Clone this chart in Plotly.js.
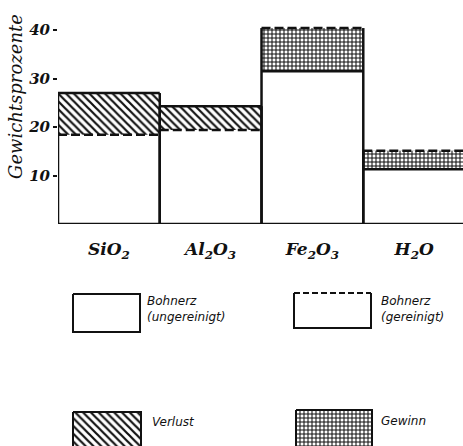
<!DOCTYPE html>
<html><head><meta charset="utf-8">
<script src="https://cdn.plot.ly/plotly-3.0.1.min.js"></script>
<style>html,body{margin:0;padding:0;background:#fff}</style>
</head><body><div id="chart" style="width:463px;height:446px"></div>
<script>
// ---- data ----
const categories = ['SiO2', 'Al2O3', 'Fe2O3', 'H2O'];
const tickLabels = ['SiO<sub>2</sub>', 'Al<sub>2</sub>O<sub>3</sub>', 'Fe<sub>2</sub>O<sub>3</sub>', 'H<sub>2</sub>O'];
const ungereinigt = [27.0, 24.3, 31.5, 11.3];   // Bohnerz (ungereinigt) – solid edge
const gereinigt   = [18.4, 19.4, 40.4, 15.1];   // Bohnerz (gereinigt) – dashed edge
const yTickVals = [10, 20, 30, 40];
const yTickText = ['10', '20', '30', '40'];

// ---- derived ----
const pos = categories.map((c, i) => i);
const lower = pos.map(i => Math.min(ungereinigt[i], gereinigt[i]));
const upper = pos.map(i => Math.max(ungereinigt[i], gereinigt[i]));
const lossBase = [], lossH = [], gainBase = [], gainH = [];
pos.forEach(i => {
  const u = ungereinigt[i], g = gereinigt[i];
  if (u > g) { lossBase.push(g); lossH.push(u - g); gainBase.push(0); gainH.push(0); }
  else { gainBase.push(u); gainH.push(g - u); lossBase.push(0); lossH.push(0); }
});
// outline paths
const solidX = [], solidY = [], dashX = [], dashY = [];
pos.forEach(i => {
  solidX.push(i - 0.5, i - 0.5, null, i + 0.5, i + 0.5, null, i - 0.5, i + 0.5, null);
  solidY.push(0, upper[i], null, 0, upper[i], null, ungereinigt[i], ungereinigt[i], null);
  dashX.push(i - 0.5, i + 0.5, null);
  dashY.push(gereinigt[i], gereinigt[i], null);
});

const INK = '#111';
const serifBI = {family: 'DejaVu Serif', size: 17, color: INK, weight: 'bold', style: 'italic'};
const hatchLoss = {shape: '\\', fgcolor: INK, bgcolor: '#fff', size: 5.5, solidity: 0.4};
const hatchGain = {shape: '+', fgcolor: INK, bgcolor: '#fff', size: 4, solidity: 0.45};

const traces = [
  {type: 'bar', x: pos, y: lower, width: 1, marker: {color: '#fff', line: {width: 0}}, hoverinfo: 'skip'},
  {type: 'bar', x: pos, y: lossH, base: lossBase, width: 1,
   marker: {color: '#fff', pattern: hatchLoss, line: {width: 0}}, hoverinfo: 'skip'},
  {type: 'bar', x: pos, y: gainH, base: gainBase, width: 1,
   marker: {color: '#fff', pattern: hatchGain, line: {width: 0}}, hoverinfo: 'skip'},
  {type: 'scatter', mode: 'lines', x: solidX, y: solidY, cliponaxis: false,
   line: {color: INK, width: 2.5}, hoverinfo: 'skip'},
  {type: 'scatter', mode: 'lines', x: dashX, y: dashY, cliponaxis: false,
   line: {color: INK, width: 2.5, dash: '9px,4px'}, hoverinfo: 'skip'},
  // legend boxes (decoration, in a pixel-like auxiliary axis)
  {type: 'scatter', mode: 'lines', xaxis: 'x2', yaxis: 'y2', fill: 'toself', fillcolor: '#fff',
   x: [73, 140, 140, 73, 73], y: [294, 294, 332, 332, 294], line: {color: INK, width: 2}, hoverinfo: 'skip'},
  {type: 'scatter', mode: 'lines', xaxis: 'x2', yaxis: 'y2', fill: 'toself', fillcolor: '#fff',
   x: [371, 371, 294, 294], y: [293, 328, 328, 293], line: {color: INK, width: 2}, hoverinfo: 'skip'},
  {type: 'scatter', mode: 'lines', xaxis: 'x2', yaxis: 'y2',
   x: [294, 371], y: [293, 293], line: {color: INK, width: 2, dash: '6px,3px'}, hoverinfo: 'skip'},
  {type: 'scatter', mode: 'lines', xaxis: 'x2', yaxis: 'y2', fill: 'toself', fillcolor: '#fff',
   fillpattern: hatchLoss, x: [73, 141, 141, 73, 73], y: [412, 412, 452, 452, 412],
   line: {color: INK, width: 2}, hoverinfo: 'skip'},
  {type: 'scatter', mode: 'lines', xaxis: 'x2', yaxis: 'y2', fill: 'toself', fillcolor: '#fff',
   fillpattern: hatchGain, x: [296, 372, 372, 296, 296], y: [410, 410, 452, 452, 410],
   line: {color: INK, width: 2}, hoverinfo: 'skip'}
];

const sansI = {family: 'DejaVu Sans', size: 12, color: INK, style: 'italic'};
const layout = {
  width: 463, height: 446,
  margin: {l: 58, r: 0, t: 0, b: 0},
  paper_bgcolor: '#fff', plot_bgcolor: 'rgba(0,0,0,0)',
  showlegend: false, hovermode: false, barmode: 'overlay',
  xaxis: {domain: [0, 1], range: [-0.5, 3.48], tickvals: pos, ticktext: tickLabels,
          showgrid: false, zeroline: false, showline: false,
          ticks: 'outside', ticklen: 10, tickcolor: 'rgba(0,0,0,0)', tickfont: serifBI, anchor: 'y'},
  yaxis: {domain: [1 - 224 / 446, 1], range: [0, 224 / 4.85], tickvals: yTickVals, ticktext: yTickText,
          showgrid: false, zeroline: false, showline: false,
          ticks: 'outside', ticklen: 4, tickwidth: 2, tickcolor: INK,
          tickfont: {family: 'DejaVu Serif', size: 15, color: INK, weight: 'bold', style: 'italic'}, anchor: 'x'},
  xaxis2: {domain: [0, 1], range: [58, 463], visible: false, anchor: 'y2'},
  yaxis2: {domain: [0, 1 - 224 / 446], range: [446, 224], visible: false, anchor: 'x2'},
  shapes: [
    {type: 'line', xref: 'paper', yref: 'y', x0: 0, x1: 1, y0: 0, y1: 0, line: {color: INK, width: 2.5}}
  ],
  annotations: [
    {text: 'Gewichtsprozente', textangle: -90, xref: 'paper', yref: 'paper',
     x: (16 - 58) / 405, y: 1 - 97 / 446, xanchor: 'center', yanchor: 'middle', showarrow: false,
     font: {family: 'DejaVu Serif', size: 18, color: INK, style: 'italic'}},
    {text: 'Bohnerz<br>(ungereinigt)', xref: 'x2', yref: 'y2', x: 145, y: 309, xanchor: 'left', yanchor: 'middle',
     align: 'left', showarrow: false, font: sansI},
    {text: 'Bohnerz<br>(gereinigt)', xref: 'x2', yref: 'y2', x: 379, y: 309, xanchor: 'left', yanchor: 'middle',
     align: 'left', showarrow: false, font: sansI},
    {text: 'Verlust', xref: 'x2', yref: 'y2', x: 150, y: 422, xanchor: 'left', yanchor: 'middle',
     showarrow: false, font: sansI},
    {text: 'Gewinn', xref: 'x2', yref: 'y2', x: 379, y: 421, xanchor: 'left', yanchor: 'middle',
     showarrow: false, font: sansI}
  ]
};

Plotly.newPlot('chart', traces, layout, {displayModeBar: false, staticPlot: true});
</script>
</body></html>
